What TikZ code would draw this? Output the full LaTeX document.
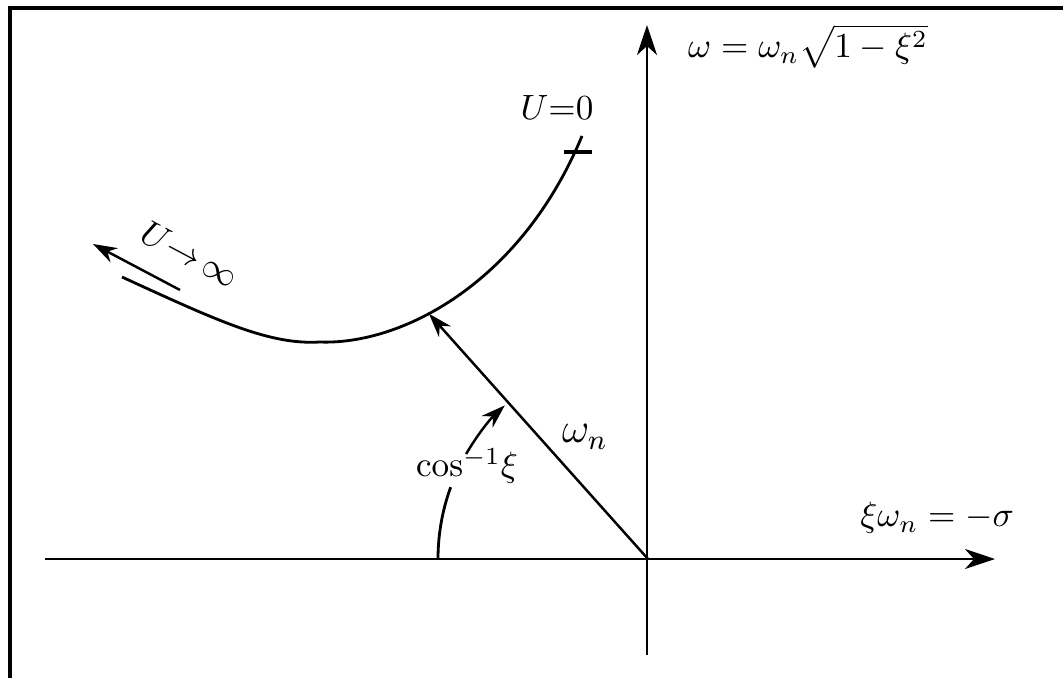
\documentclass[tikz,border=0pt]{standalone}
\usepackage{amsmath,amssymb}
\usetikzlibrary{arrows.meta}
\begin{document}
\begin{tikzpicture}[x=0.01cm,y=-0.01cm,every node/.style={font=\normalsize},axis/.style={line width=0.7pt,-{Stealth[length=3mm,width=2mm,inset=0.9mm]}},vec/.style={line width=0.7pt,-{Stealth[length=2.4mm,width=1.6mm]}},curve/.style={line width=0.8pt}]
\useasboundingbox (0,0) rectangle (1063,678);
\draw[line width=1pt] (10,678) -- (10,8) -- (1063,8);
\coordinate (O) at (648,559);
\coordinate (xl) at (45,559);
\coordinate (xr) at (995,559);
\coordinate (yb) at (647,655);
\coordinate (yt) at (647,25);
\coordinate (U0) at (578,152);
\coordinate (ut) at (180,290);
\coordinate (uh) at (93,244);
\draw[axis] (xl) -- (xr);
\draw[axis] (yb) -- (yt);
\draw[curve] (122,277) .. controls (220,322) and (270,345) .. (320,342) .. controls (400,345) and (520,285) .. coordinate[pos=0.4] (P) (582,136);
\draw[line width=1.1pt] ([xshift=-0.14cm]U0) -- ([xshift=0.14cm]U0);
\draw[vec] (O) -- (P);
\draw[vec] (ut) -- (uh);
\draw[curve] (O) ++(180:210) arc[start angle=180,end angle=200,radius=210];
\draw[vec] (O) ++(210:210) arc[start angle=210,end angle=227,radius=210];
\node[anchor=west,inner sep=1pt] (wl) at (684,46) {$\omega=\omega_n\sqrt{1-\xi^2}$};
\node[anchor=west] (sl) at (848,518) {$\xi\omega_n=-\sigma$};
\node (ul) at (557,107) {$U{=}0$};
\node[rotate=-28,inner sep=1pt] (il) at (190,254) {$U{\to}\,\infty$};
\node[font=\large] (wn) at (585,437) {$\omega_n$};
\node (cl) at (467,466) {$\cos^{-1}\!\xi$};
\end{tikzpicture}
\end{document}
